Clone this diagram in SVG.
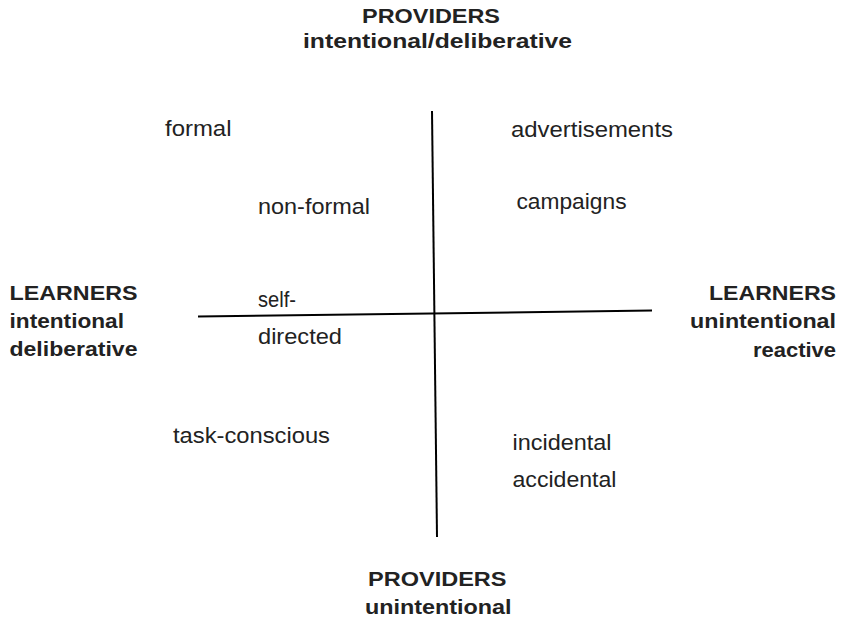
<svg xmlns="http://www.w3.org/2000/svg" width="846" height="619" viewBox="0 0 846 619">
<style>
.t{font-family:"Liberation Sans",Arial,Helvetica,sans-serif;fill:#222;font-size:22px}
.b{font-family:"Liberation Sans",Arial,Helvetica,sans-serif;fill:#222;font-size:20.5px;font-weight:bold}
.ax{stroke:#000;stroke-width:2;fill:none}
</style>
<rect width="846" height="619" fill="#fff"/>
<g id="connectors">
<path class="ax" d="M432 111 L437 537"/>
<path class="ax" d="M198 316.5 L652 310.5"/>
</g>
<g id="providers-top">
<text class="b" x="362" y="22.5" textLength="138" lengthAdjust="spacingAndGlyphs">PROVIDERS</text>
<text class="b" x="303" y="48" textLength="269" lengthAdjust="spacingAndGlyphs">intentional/deliberative</text>
</g>
<g id="learners-left">
<text class="b" x="9.5" y="299.5" textLength="128" lengthAdjust="spacingAndGlyphs">LEARNERS</text>
<text class="b" x="9.5" y="327.5" textLength="114.5" lengthAdjust="spacingAndGlyphs">intentional</text>
<text class="b" x="9.5" y="356" textLength="128" lengthAdjust="spacingAndGlyphs">deliberative</text>
</g>
<g id="learners-right">
<text class="b" x="709" y="300" textLength="127" lengthAdjust="spacingAndGlyphs">LEARNERS</text>
<text class="b" x="690" y="328" textLength="146" lengthAdjust="spacingAndGlyphs">unintentional</text>
<text class="b" x="753" y="356.5" textLength="83" lengthAdjust="spacingAndGlyphs">reactive</text>
</g>
<g id="providers-bottom">
<text class="b" x="368" y="586" textLength="138.5" lengthAdjust="spacingAndGlyphs">PROVIDERS</text>
<text class="b" x="365" y="614" textLength="146.5" lengthAdjust="spacingAndGlyphs">unintentional</text>
</g>
<g id="formal"><text class="t" x="165" y="135.5" textLength="66.5" lengthAdjust="spacingAndGlyphs">formal</text></g>
<g id="advertisements"><text class="t" x="511" y="136.5" textLength="162" lengthAdjust="spacingAndGlyphs">advertisements</text></g>
<g id="non-formal"><text class="t" x="258" y="213.5" textLength="112" lengthAdjust="spacingAndGlyphs">non-formal</text></g>
<g id="campaigns"><text class="t" x="516.5" y="209" textLength="110" lengthAdjust="spacingAndGlyphs">campaigns</text></g>
<g id="self-directed">
<text class="t" x="258" y="306.5" textLength="38" lengthAdjust="spacingAndGlyphs">self-</text>
<text class="t" x="258" y="344" textLength="84" lengthAdjust="spacingAndGlyphs">directed</text>
</g>
<g id="task-conscious"><text class="t" x="173" y="443" textLength="157" lengthAdjust="spacingAndGlyphs">task-conscious</text></g>
<g id="incidental"><text class="t" x="512.5" y="450" textLength="99" lengthAdjust="spacingAndGlyphs">incidental</text></g>
<g id="accidental"><text class="t" x="512.5" y="486.5" textLength="104" lengthAdjust="spacingAndGlyphs">accidental</text></g>
</svg>
